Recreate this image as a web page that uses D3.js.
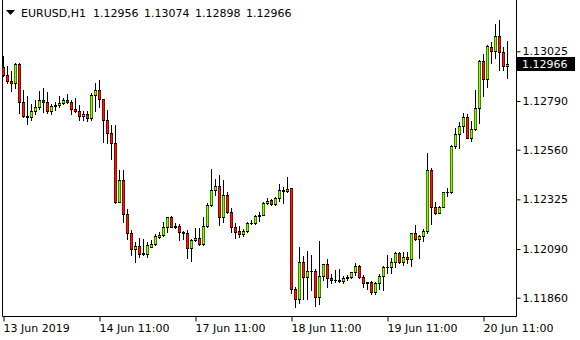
<!DOCTYPE html>
<html>
<head>
<meta charset="utf-8">
<script src="https://cdn.jsdelivr.net/npm/d3@7"></script>
<style>
  body { margin: 0; background: #fff; }
  svg { display: block; font-family: "DejaVu Sans", sans-serif; font-size: 11px; }
</style>
</head>
<body>
<div id="chart"></div>
<script>
// EURUSD H1 bars, 13 Jun 11:00 .. 20 Jun 17:00
const open = [1.12952,1.12913,1.12886,1.12874,1.12965,1.12784,1.12720,1.12712,1.12743,1.12763,
  1.12795,1.12787,1.12744,1.12768,1.12771,1.12782,1.12795,1.12787,1.12752,1.12744,
  1.12719,1.12729,1.12711,1.12818,1.12842,1.12798,1.12700,1.12640,1.12590,1.12314,
  1.12417,1.12254,1.12165,1.12089,1.12104,1.12072,1.12066,1.12100,1.12112,1.12149,
  1.12156,1.12193,1.12240,1.12196,1.12198,1.12169,1.12167,1.12096,1.12133,1.12141,
  1.12115,1.12199,1.12298,1.12369,1.12388,1.12240,1.12346,1.12264,1.12193,1.12174,
  1.12163,1.12175,1.12212,1.12214,1.12246,1.12251,1.12306,1.12321,1.12301,1.12333,
  1.12369,1.12364,1.12377,1.11900,1.11852,1.12029,1.11959,1.11986,1.11988,1.11862,
  1.11963,1.12018,1.11952,1.11942,1.11944,1.11938,1.11951,1.11957,1.11980,1.12010,
  1.11957,1.11931,1.11933,1.11886,1.11928,1.11963,1.12004,1.12006,1.12027,1.12070,
  1.12030,1.12051,1.12042,1.12165,1.12136,1.12152,1.12177,1.12464,1.12287,1.12262,
  1.12290,1.12358,1.12360,1.12577,1.12634,1.12672,1.12714,1.12617,1.12656,1.12755,
  1.12979,1.12893,1.13044,1.13028,1.13099,1.13020,1.12956];
const high = [1.13003,1.12956,1.12930,1.12968,1.12968,1.12842,1.12814,1.12774,1.12795,1.12837,
  1.12853,1.12834,1.12774,1.12787,1.12814,1.12806,1.12823,1.12795,1.12806,1.12771,
  1.12743,1.12743,1.12826,1.12877,1.12889,1.12800,1.12747,1.12677,1.12677,1.12464,
  1.12464,1.12279,1.12180,1.12122,1.12141,1.12137,1.12122,1.12133,1.12161,1.12169,
  1.12217,1.12243,1.12246,1.12212,1.12208,1.12175,1.12178,1.12137,1.12191,1.12191,
  1.12243,1.12306,1.12469,1.12421,1.12440,1.12417,1.12358,1.12286,1.12212,1.12199,
  1.12185,1.12219,1.12227,1.12251,1.12264,1.12311,1.12333,1.12325,1.12338,1.12398,
  1.12385,1.12431,1.12379,1.11909,1.12101,1.12057,1.12082,1.12062,1.11994,1.12130,
  1.12020,1.12042,1.11971,1.11991,1.11995,1.11964,1.11969,1.11983,1.12023,1.12013,
  1.11969,1.11936,1.11940,1.11934,1.11972,1.12012,1.12062,1.12046,1.12077,1.12077,
  1.12075,1.12075,1.12168,1.12204,1.12157,1.12183,1.12546,1.12472,1.12314,1.12292,
  1.12362,1.12380,1.12582,1.12661,1.12689,1.12732,1.12730,1.12695,1.12842,1.12984,
  1.13011,1.13055,1.13068,1.13154,1.13173,1.13047,1.13074];
const low = [1.12908,1.12874,1.12839,1.12850,1.12735,1.12716,1.12681,1.12700,1.12729,1.12751,
  1.12739,1.12732,1.12729,1.12747,1.12763,1.12774,1.12782,1.12729,1.12739,1.12700,
  1.12700,1.12697,1.12700,1.12744,1.12763,1.12598,1.12593,1.12514,1.12309,1.12312,
  1.12219,1.12136,1.12062,1.12027,1.12054,1.12064,1.12054,1.12098,1.12110,1.12141,
  1.12154,1.12172,1.12194,1.12188,1.12133,1.12136,1.12046,1.12034,1.12130,1.12109,
  1.12109,1.12196,1.12295,1.12346,1.12204,1.12219,1.12262,1.12169,1.12141,1.12148,
  1.12152,1.12172,1.12208,1.12210,1.12223,1.12249,1.12301,1.12299,1.12298,1.12319,
  1.12306,1.12362,1.11881,1.11815,1.11833,1.11852,1.11855,1.11896,1.11822,1.11829,
  1.11944,1.11909,1.11928,1.11933,1.11933,1.11928,1.11944,1.11955,1.11968,1.11955,
  1.11912,1.11903,1.11876,1.11876,1.11903,1.11896,1.11975,1.11975,1.12006,1.12023,
  1.12015,1.12023,1.12011,1.12134,1.12049,1.12128,1.12165,1.12207,1.12254,1.12260,
  1.12288,1.12342,1.12356,1.12569,1.12569,1.12645,1.12614,1.12601,1.12653,1.12687,
  1.12814,1.12858,1.12968,1.12992,1.12937,1.12937,1.12898];
const close = [1.12913,1.12886,1.12874,1.12965,1.12784,1.12720,1.12712,1.12743,1.12763,1.12795,
  1.12787,1.12744,1.12768,1.12771,1.12782,1.12795,1.12787,1.12752,1.12744,1.12719,
  1.12729,1.12711,1.12818,1.12842,1.12798,1.12700,1.12640,1.12590,1.12314,1.12417,
  1.12254,1.12165,1.12089,1.12104,1.12068,1.12066,1.12109,1.12112,1.12152,1.12156,
  1.12193,1.12240,1.12196,1.12198,1.12169,1.12167,1.12096,1.12133,1.12141,1.12115,
  1.12199,1.12298,1.12369,1.12388,1.12240,1.12346,1.12264,1.12193,1.12172,1.12163,
  1.12175,1.12212,1.12214,1.12246,1.12251,1.12306,1.12319,1.12301,1.12333,1.12369,
  1.12364,1.12374,1.11900,1.11852,1.12029,1.11959,1.11986,1.11988,1.11862,1.11963,
  1.12018,1.11952,1.11942,1.11944,1.11938,1.11951,1.11957,1.11980,1.12010,1.11957,
  1.11931,1.11933,1.11886,1.11928,1.11963,1.12004,1.12006,1.12027,1.12070,1.12030,
  1.12051,1.12042,1.12165,1.12136,1.12152,1.12177,1.12464,1.12287,1.12262,1.12290,
  1.12358,1.12360,1.12577,1.12634,1.12672,1.12714,1.12617,1.12656,1.12755,1.12979,
  1.12893,1.13050,1.13028,1.13099,1.13020,1.12957,1.12966];

const yTicks = [1.11860, 1.12090, 1.12325, 1.12560, 1.12790, 1.13025];
const xTickIdx = [0, 24, 48, 72, 96, 120];
const xTickLabels = ["13 Jun 2019", "14 Jun 11:00", "17 Jun 11:00", "18 Jun 11:00", "19 Jun 11:00", "20 Jun 11:00"];
const title = "EURUSD,H1";
const ohlcText = ["1.12956", "1.13074", "1.12898", "1.12966"];
const lastPrice = 1.12966;

const W = 580, H = 340;
const plotRight = 516, plotBottom = 316, plotLeft = 2;
const bull = "#84ff00", bear = "#ff1a00";

const svg = d3.select("#chart").append("svg")
  .attr("width", W).attr("height", H);

const x = d3.scaleLinear().domain([0, 126]).range([3, 507]);
const y = d3.scaleLinear().domain([1.11860, 1.12790]).range([297.7, 101]);

// frame
svg.append("path")
  .attr("d", `M${plotLeft + 0.5},0V${plotBottom + 0.5}H${plotRight + 0.5}V0`)
  .attr("fill", "none").attr("stroke", "#000");

// candles: black wick + 3px black body with a coloured core
const bars = d3.range(open.length).map(i => ({ i, o: open[i], h: high[i], l: low[i], c: close[i] }));
const g = svg.append("g");

bars.forEach(d => {
  const cx = Math.round(x(d.i));
  const hi = Math.round(y(d.h)), lo = Math.round(y(d.l));
  const top = Math.round(y(Math.max(d.o, d.c)));
  const bot = Math.round(y(Math.min(d.o, d.c)));
  g.append("rect").attr("x", cx).attr("y", hi).attr("width", 1).attr("height", lo - hi + 1).attr("fill", "#000");
  g.append("rect").attr("x", cx - 1).attr("y", top).attr("width", 3).attr("height", bot - top + 1).attr("fill", "#000");
  if (bot - top >= 2) {
    g.append("rect").attr("x", cx - 0.5).attr("y", top + 1).attr("width", 2).attr("height", bot - top - 1)
      .attr("fill", d.c >= d.o ? bull : bear);
  }
});

// price axis
const yAxis = svg.append("g")
  .attr("transform", `translate(${plotRight + 0.5},0)`)
  .call(d3.axisRight(y).tickValues(yTicks).tickFormat(d3.format(".5f")).tickSize(4).tickPadding(2).tickSizeOuter(0));
yAxis.select(".domain").remove();
yAxis.selectAll("text").attr("fill", "#000").attr("font-family", "DejaVu Sans").attr("font-size", 11);

// time axis
const xAxis = svg.append("g")
  .attr("transform", `translate(0,${plotBottom + 0.5})`)
  .call(d3.axisBottom(x).tickValues(xTickIdx).tickFormat((d, k) => xTickLabels[k]).tickSize(5).tickPadding(3).tickSizeOuter(0));
xAxis.select(".domain").remove();
xAxis.selectAll(".tick line").attr("transform", "translate(0.5,0)");
xAxis.selectAll("text").attr("text-anchor", "start").attr("x", 0).attr("fill", "#000")
  .attr("font-family", "DejaVu Sans").attr("font-size", 11);

// last price marker
const ly = Math.round(y(lastPrice));
svg.append("rect").attr("x", plotRight + 1).attr("y", ly - 7).attr("width", 58).attr("height", 14).attr("fill", "#000");
svg.append("text").attr("x", plotRight + 6).attr("y", ly).attr("dy", "0.36em")
  .attr("fill", "#fff").text(d3.format(".5f")(lastPrice));

// header
svg.append("path").attr("d", "M6,10H15L10.5,15Z").attr("fill", "#000");
svg.append("text").attr("x", 21).attr("y", 17).attr("fill", "#000").text(title);
svg.selectAll("text.ohlc").data(ohlcText).enter().append("text")
  .attr("class", "ohlc")
  .attr("x", (d, k) => 93 + k * 51).attr("y", 17).attr("fill", "#000").text(d => d);
</script>
</body>
</html>
